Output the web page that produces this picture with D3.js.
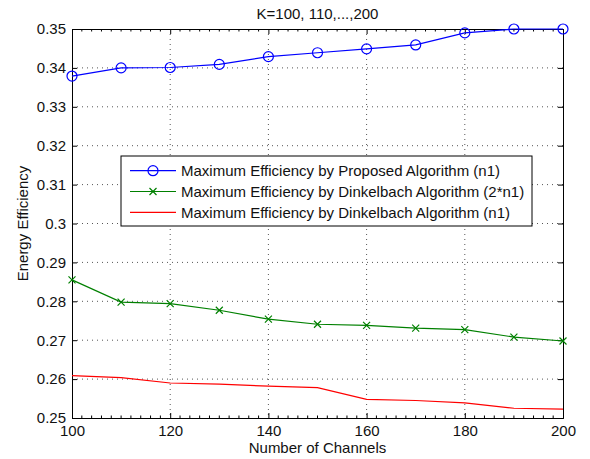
<!doctype html>
<html>
<head>
<script src="https://d3js.org/d3.v7.min.js"></script>
<style>
  body { margin:0; background:#fff; }
  text { font-family: "Liberation Sans", Arial, sans-serif; fill:#111; }
</style>
</head>
<body>
<svg id="chart" width="590" height="459"></svg>
<script>
// data
var channels = [100, 110, 120, 130, 140, 150, 160, 170, 180, 190, 200];
var proposed = [0.3379, 0.3400, 0.3401, 0.3409, 0.3429, 0.3439, 0.3449, 0.3459, 0.3490, 0.3500, 0.3500];
var dinkel2 = [0.2855, 0.2798, 0.2794, 0.2777, 0.2754, 0.2741, 0.2738, 0.2731, 0.2727, 0.2708, 0.2698];
var dinkel1 = [0.2609, 0.2604, 0.2590, 0.2587, 0.2582, 0.2578, 0.2548, 0.2545, 0.2539, 0.2525, 0.2523];
var xTicks = [100, 120, 140, 160, 180, 200];
var yTicks = [0.25, 0.26, 0.27, 0.28, 0.29, 0.3, 0.31, 0.32, 0.33, 0.34, 0.35];
var legendNames = ["Maximum Efficiency by Proposed Algorithm (n1)",
                   "Maximum Efficiency by Dinkelbach Algorithm (2*n1)",
                   "Maximum Efficiency by Dinkelbach Algorithm (n1)"];

var svg = d3.select("#chart");
var L = 72, R = 563, T = 29, B = 418;
var FS = 15;
var x = d3.scaleLinear().domain([100, 200]).range([L, R]);
var y = d3.scaleLinear().domain([0.25, 0.35]).range([B, T]);

// grid, dotted
var grid = svg.append("g").attr("stroke", "#555").attr("stroke-width", 1)
  .attr("stroke-dasharray", "1,4");
xTicks.slice(1, -1).forEach(function(t){
  grid.append("line").attr("x1", x(t)).attr("x2", x(t)).attr("y1", T).attr("y2", B);
});
yTicks.slice(1, -1).forEach(function(t){
  grid.append("line").attr("x1", L).attr("x2", R).attr("y1", y(t)).attr("y2", y(t));
});

// axes, ticks inward (matlab style)
var fmtY = function(d){ return d3.format("")(+d.toFixed(2)); };
svg.append("g").attr("transform", "translate(0," + B + ")")
  .call(d3.axisBottom(x).tickValues(xTicks).tickSize(-5).tickPadding(7).tickFormat(d3.format("d")));
svg.append("g").attr("transform", "translate(0," + T + ")")
  .call(d3.axisTop(x).tickValues(xTicks).tickSize(-5).tickFormat(""));
svg.append("g").attr("transform", "translate(" + L + ",0)")
  .call(d3.axisLeft(y).tickValues(yTicks).tickSize(-5).tickPadding(6).tickFormat(fmtY));
svg.append("g").attr("transform", "translate(" + R + ",0)")
  .call(d3.axisRight(y).tickValues(yTicks).tickSize(-5).tickFormat(""));
svg.selectAll(".domain").attr("stroke", "#000");
svg.selectAll(".tick line").attr("stroke", "#000");
svg.selectAll(".tick text").attr("font-size", FS).attr("font-family", "Liberation Sans, Arial, sans-serif").attr("fill", "#111");

// minor ticks on x axis
d3.range(102, 200, 2).forEach(function(t){
  if (t % 20 === 0) return;
  svg.append("line").attr("x1", x(t)).attr("x2", x(t)).attr("y1", B).attr("y2", B - 2.5).attr("stroke", "#000");
  svg.append("line").attr("x1", x(t)).attr("x2", x(t)).attr("y1", T).attr("y2", T + 2.5).attr("stroke", "#000");
});

// lines
var line = d3.line().x(function(d){ return x(d[0]); }).y(function(d){ return y(d[1]); });
function pairs(vals){ return channels.map(function(c, i){ return [c, vals[i]]; }); }

svg.append("path").datum(pairs(dinkel1)).attr("d", line)
  .attr("fill", "none").attr("stroke", "#f00").attr("stroke-width", 1.2);
svg.append("path").datum(pairs(dinkel2)).attr("d", line)
  .attr("fill", "none").attr("stroke", "#008000").attr("stroke-width", 1.2);
svg.append("path").datum(pairs(proposed)).attr("d", line)
  .attr("fill", "none").attr("stroke", "#00f").attr("stroke-width", 1.2);

function cross(g, cx, cy){
  g.append("path").attr("d", "M" + (cx-3.5) + "," + (cy-3.5) + "L" + (cx+3.5) + "," + (cy+3.5) +
    "M" + (cx-3.5) + "," + (cy+3.5) + "L" + (cx+3.5) + "," + (cy-3.5))
    .attr("stroke", "#008000").attr("stroke-width", 1.2);
}
var gx = svg.append("g");
pairs(dinkel2).forEach(function(p){ cross(gx, x(p[0]), y(p[1])); });
svg.selectAll("circle.pt").data(pairs(proposed)).enter().append("circle")
  .attr("class", "pt").attr("cx", function(d){ return x(d[0]); }).attr("cy", function(d){ return y(d[1]); })
  .attr("r", 5).attr("fill", "none").attr("stroke", "#00f").attr("stroke-width", 1.2);

// legend
var lg = svg.append("g");
lg.append("rect").attr("x", 121).attr("y", 156).attr("width", 411).attr("height", 70)
  .attr("fill", "#fff").attr("stroke", "#000").attr("stroke-width", 1);
var legColors = ["#00f", "#008000", "#f00"];
legendNames.forEach(function(name, i){
  var ly = 170.7 + i * 20.8;
  lg.append("line").attr("x1", 130).attr("x2", 176).attr("y1", ly).attr("y2", ly)
    .attr("stroke", legColors[i]).attr("stroke-width", 1.2);
  if (i === 0) lg.append("circle").attr("cx", 153).attr("cy", ly).attr("r", 5)
    .attr("fill", "none").attr("stroke", "#00f").attr("stroke-width", 1.2);
  if (i === 1) cross(lg, 153, ly);
  lg.append("text").attr("x", 181).attr("y", ly + 5.5).attr("font-size", FS).text(name);
});

// titles
svg.append("text").attr("x", (L + R) / 2).attr("y", 18.5).attr("text-anchor", "middle")
  .attr("font-size", FS).text("K=100, 110,...,200");
svg.append("text").attr("x", (L + R) / 2).attr("y", 453).attr("text-anchor", "middle")
  .attr("font-size", FS).text("Number of Channels");
svg.append("text").attr("transform", "translate(28," + ((T + B) / 2) + ") rotate(-90)")
  .attr("text-anchor", "middle").attr("font-size", FS).text("Energy Efficiency");
</script>
</body>
</html>
